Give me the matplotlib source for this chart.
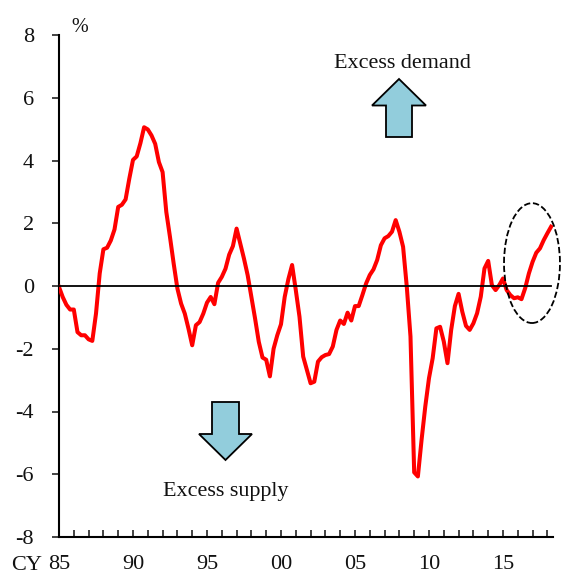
#!/usr/bin/env python3

import matplotlib
matplotlib.use("Agg")
import matplotlib.pyplot as plt
from matplotlib.patches import Ellipse, Polygon
import numpy as np

plt.rcParams["font.family"] = ["Liberation Serif", "DejaVu Serif"]

# quarterly values, 1985 Q1 to 2018 Q2
gap = [
    -0.03, -0.35, -0.60, -0.75, -0.75, -1.47, -1.57, -1.57, -1.70, -1.75,
    -0.88, 0.40, 1.17, 1.22, 1.45, 1.80, 2.52, 2.59, 2.76, 3.42,
    4.02, 4.13, 4.55, 5.06, 4.99, 4.80, 4.53, 3.95, 3.63, 2.36,
    1.56, 0.71, -0.08, -0.56, -0.88, -1.36, -1.89, -1.25, -1.15, -0.88,
    -0.53, -0.35, -0.58, 0.10, 0.29, 0.55, 1.00, 1.27, 1.83, 1.35,
    0.87, 0.34, -0.35, -1.04, -1.78, -2.28, -2.35, -2.88, -2.00, -1.57,
    -1.22, -0.35, 0.22, 0.67, -0.13, -0.98, -2.25, -2.68, -3.10, -3.05,
    -2.41, -2.27, -2.20, -2.17, -1.93, -1.40, -1.10, -1.21, -0.85, -1.10,
    -0.64, -0.64, -0.29, 0.08, 0.35, 0.53, 0.83, 1.30, 1.52, 1.59,
    1.73, 2.10, 1.73, 1.25, -0.02, -1.61, -5.94, -6.07, -4.90, -3.84,
    -2.94, -2.30, -1.35, -1.30, -1.77, -2.46, -1.40, -0.64, -0.25, -0.82,
    -1.27, -1.40, -1.19, -0.87, -0.34, 0.56, 0.80, 0.03, -0.13, 0.03,
    0.24, -0.13, -0.29, -0.39, -0.36, -0.42, -0.07, 0.40, 0.77, 1.06,
    1.20, 1.46, 1.68, 1.89,
]
year_ticks = list(range(1985, 2019))
year_labels = ["85", "90", "95", "00", "05", "10", "15"]
y_ticks = [-8, -6, -4, -2, 0, 2, 4, 6, 8]

W, H = 565, 586
fig = plt.figure(figsize=(W / 100, H / 100), dpi=100)
ax = fig.add_axes([59 / W, 1 - 537 / H, (553 - 59) / W, (537 - 35) / H])

x = 1985 + np.arange(len(gap)) / 4
ax.plot(x, gap, color="#ff0000", lw=2.9, solid_joinstyle="round", zorder=3)
ax.plot([1985, x[-1]], [0, 0], color="black", lw=1.3, zorder=4)

ax.set_xlim(1985, 2018.38)
ax.set_ylim(-8, 8)
for side in ["top", "right"]:
    ax.spines[side].set_visible(False)
for side in ["left", "bottom"]:
    ax.spines[side].set_linewidth(1.5)

ax.set_yticks(y_ticks)
ax.set_yticklabels([str(v) for v in y_ticks])
ax.set_xticks(year_ticks)
ax.set_xticklabels([year_labels[(y - 1985) // 5] if (y - 1985) % 5 == 0 else "" for y in year_ticks])
ax.tick_params(axis="y", direction="out", length=5, width=1.1, labelsize=16, pad=13, colors="#111111")
ax.tick_params(axis="x", direction="in", length=5, width=1.1, labelsize=16, pad=13, colors="#111111")

ax.add_patch(Ellipse((2016.96, 0.73), 3.78, 3.82, fill=False, ec="black", lw=1.3,
                     ls=(0, (3.5, 1.5)), zorder=5, clip_on=False))


def px(points):
    return [(a / W, 1 - b / H) for a, b in points]


up = [(399, 79), (426, 105.5), (412, 105.5), (412, 137), (386, 137), (386, 105.5), (372, 105.5)]
down = [(225.5, 460), (199, 434), (212, 434), (212, 402), (239, 402), (239, 434), (252, 434)]
for arrow in [up, down]:
    fig.add_artist(Polygon(px(arrow), closed=True, fc="#92cddc", ec="black", lw=1.3,
                           transform=fig.transFigure))

fig.text(80 / W, 1 - 27 / H, "%", fontsize=14.5, ha="center", va="center", color="#111111")
fig.text(402.5 / W, 1 - 63 / H, "Excess demand", fontsize=15.9, ha="center", va="center", color="#111111")
fig.text(225.5 / W, 1 - 491.5 / H, "Excess supply", fontsize=15.9, ha="center", va="center", color="#111111")
fig.text(11 / W, 1 - 566 / H, "CY", fontsize=16, ha="left", va="center", color="#111111")

fig.savefig("out.png", dpi=100)
